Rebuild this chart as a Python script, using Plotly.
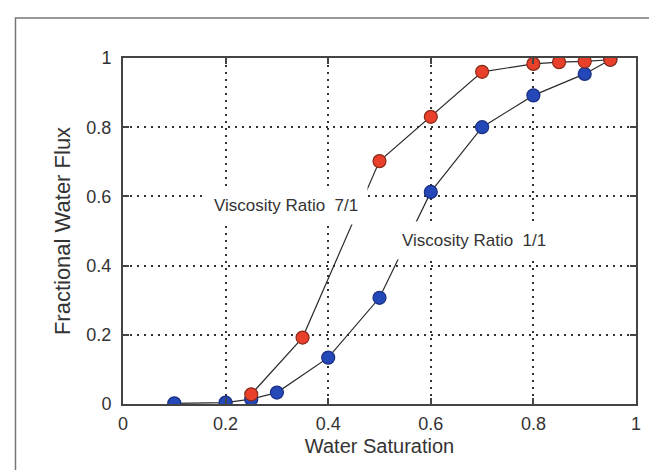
import plotly.graph_objects as go

# Data
sw_11 = [0.10, 0.20, 0.25, 0.30, 0.40, 0.50, 0.60, 0.70, 0.80, 0.90, 0.95]
fw_11 = [0.002, 0.004, 0.014, 0.033, 0.134, 0.307, 0.613, 0.800, 0.892, 0.954, 0.995]

sw_71 = [0.25, 0.35, 0.50, 0.60, 0.70, 0.80, 0.85, 0.90, 0.95]
fw_71 = [0.028, 0.192, 0.702, 0.830, 0.960, 0.983, 0.988, 0.990, 0.995]

tick_vals = [0, 0.2, 0.4, 0.6, 0.8, 1]
tick_text = ["0", "0.2", "0.4", "0.6", "0.8", "1"]

label_71 = "Viscosity Ratio  7/1"
label_11 = "Viscosity Ratio  1/1"

FONT = "Liberation Sans, Arial, sans-serif"

fig = go.Figure()
fig.add_trace(go.Scatter(
    x=sw_11, y=fw_11, mode="lines+markers",
    line=dict(color="#2b2b2b", width=1.2),
    marker=dict(size=13, color="#2448b8", line=dict(color="#1a2f80", width=1.2)),
    showlegend=False,
))
fig.add_trace(go.Scatter(
    x=sw_71, y=fw_71, mode="lines+markers",
    line=dict(color="#2b2b2b", width=1.2),
    marker=dict(size=13, color="#e8402a", line=dict(color="#8a2a1a", width=1.2)),
    showlegend=False,
))

fig.add_annotation(x=0.317, y=0.573, xref="x", yref="y", text=label_71,
                   showarrow=False, bgcolor="white", borderpad=9,
                   font=dict(family=FONT, size=17, color="#333333"))
fig.add_annotation(x=0.684, y=0.472, xref="x", yref="y", text=label_11,
                   showarrow=False, bgcolor="white", borderpad=9,
                   font=dict(family=FONT, size=17, color="#333333"))

# Outer picture frame
fig.add_shape(type="rect", xref="paper", yref="paper",
              x0=-0.2096, x1=1.0428, y0=-0.3, y1=1.1154,
              line=dict(color="#777777", width=1.5), layer="below")

axis_common = dict(
    range=[0, 1], tickvals=tick_vals, ticktext=tick_text,
    showline=True, linecolor="#444444", linewidth=2, mirror="ticks",
    ticks="inside", ticklen=6, tickwidth=1.5, tickcolor="#444444",
    showgrid=True, gridcolor="#333333", gridwidth=1.5, griddash="2px,5px",
    zeroline=False,
    tickfont=dict(family=FONT, size=18, color="#333333"),
)

fig.update_xaxes(title_text="Water Saturation", title_standoff=6,
                 ticklabelstandoff=2,
                 title_font=dict(family=FONT, size=20, color="#333333"),
                 **axis_common)
fig.update_yaxes(title_text="Fractional Water Flux", title_standoff=10,
                 ticklabelstandoff=6,
                 title_font=dict(family=FONT, size=22, color="#333333"),
                 **axis_common)

fig.update_layout(
    width=657, height=470,
    margin=dict(l=115, r=29, t=50, b=73.5),
    paper_bgcolor="white", plot_bgcolor="white",
    font=dict(family=FONT),
)

fig.write_html("out.html")
